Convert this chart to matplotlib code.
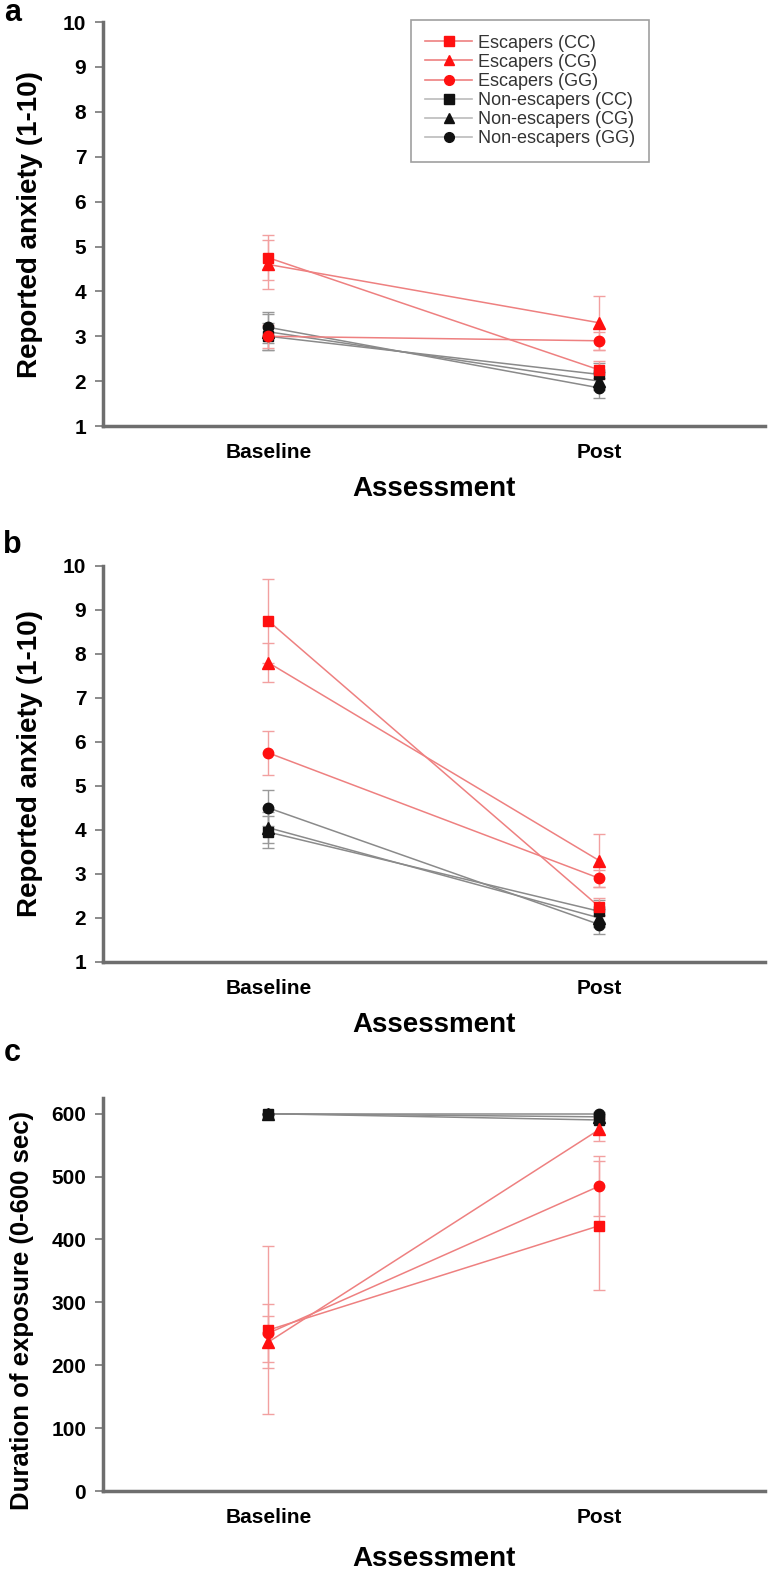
import matplotlib
matplotlib.use("Agg")
import matplotlib.pyplot as plt
from matplotlib.lines import Line2D

plt.rcParams['font.family'] = ['Liberation Sans', 'DejaVu Sans']

# x positions: Baseline, Post
xpos = [1, 2]
xlabels = ["Baseline", "Post"]

groups = ["Escapers (CC)", "Escapers (CG)", "Escapers (GG)",
          "Non-escapers (CC)", "Non-escapers (CG)", "Non-escapers (GG)"]
markers = ["s", "^", "o", "s", "^", "o"]

# panel a: reported anxiety (1-10)
a_mean = [[4.75, 2.25], [4.6, 3.3], [3.0, 2.9],
          [3.0, 2.15], [3.1, 2.0], [3.2, 1.85]]
a_err = [[0.5, 0.2], [0.55, 0.6], [0.25, 0.2],
         [0.3, 0.25], [0.4, 0.2], [0.35, 0.22]]

# panel b: reported anxiety (1-10)
b_mean = [[8.75, 2.25], [7.8, 3.3], [5.75, 2.9],
          [3.95, 2.15], [4.05, 2.0], [4.5, 1.85]]
b_err = [[0.95, 0.2], [0.45, 0.6], [0.5, 0.2],
         [0.37, 0.25], [0.35, 0.2], [0.4, 0.22]]

# panel c: duration of exposure (0-600 sec)
c_mean = [[256, 422], [237, 575], [251, 485],
          [600, 590], [600, 595], [600, 600]]
c_err = [[134, 102], [41, 18], [46, 48],
         [0, 5], [0, 4], [0, 3]]

panels = [
    ("a", a_mean, a_err, (1, 10), range(1, 11), "Reported anxiety (1-10)"),
    ("b", b_mean, b_err, (1, 10), range(1, 11), "Reported anxiety (1-10)"),
    ("c", c_mean, c_err, (0, 625), range(0, 601, 100), "Duration of exposure (0-600 sec)"),
]

# axes boxes in figure fractions [left, bottom, width, height]
boxes = [
    [0.134, 0.730, 0.862, 0.256],
    [0.134, 0.3904, 0.862, 0.251],
    [0.134, 0.0551, 0.862, 0.2491],
]
letter_y = [0.992, 0.6546, 0.333]
ylab_x = [-0.091, -0.091, -0.104]
ylab_y = [0.5, 0.5, 0.46]
ylab_size = [20, 20, 18.5]
xlab_y = [-0.124, -0.126, -0.14]

red_mk = "#ff1010"
red_ln = "#ee8080"
red_eb = "#f2a0a0"
blk_mk = "#111111"
blk_ln = "#8a8a8a"
blk_eb = "#999999"

fig = plt.figure(figsize=(7.68, 15.78), dpi=100)

for k, (letter, means, errs, ylim, yt, ylab) in enumerate(panels):
    ax = fig.add_axes(boxes[k])
    # non-escapers first so the red ones sit on top where they overlap
    for i in [3, 4, 5, 0, 1, 2]:
        esc = i < 3
        ax.errorbar(xpos, means[i], yerr=errs[i], fmt="none",
                    ecolor=red_eb if esc else blk_eb, elinewidth=1,
                    capsize=4, capthick=1, zorder=2)
        ax.plot(xpos, means[i], color=red_ln if esc else blk_ln, lw=1.1,
                zorder=3)
        ax.plot(xpos, means[i], ls="none", marker=markers[i],
                color=red_mk if esc else blk_mk, ms=8.5 if markers[i] == "^" else 7.5,
                zorder=4)

    ax.set_xlim(0.5, 2.5)
    ax.set_ylim(*ylim)
    ax.set_xticks(xpos)
    ax.set_xticklabels(xlabels)
    ax.set_yticks(list(yt))
    for lab in ax.get_xticklabels() + ax.get_yticklabels():
        lab.set_fontweight("bold")
        lab.set_fontsize(15)
    ax.tick_params(axis="x", length=0, pad=12)
    ax.tick_params(axis="y", length=6, width=1.2, color="#777777", pad=6)
    for s in ["top", "right"]:
        ax.spines[s].set_visible(False)
    for s in ["left", "bottom"]:
        ax.spines[s].set_color("#6e6e6e")
        ax.spines[s].set_linewidth(2.5)

    ax.set_ylabel(ylab, fontsize=ylab_size[k], fontweight="bold")
    ax.yaxis.set_label_coords(ylab_x[k], ylab_y[k])
    ax.set_xlabel("Assessment", fontsize=20, fontweight="bold")
    ax.xaxis.set_label_coords(0.50, xlab_y[k])

    fig.text(0.016, letter_y[k], letter, fontsize=22, fontweight="bold",
             ha="center", va="center")

    if letter == "a":
        handles = []
        for i in range(6):
            esc = i < 3
            handles.append(Line2D([], [], color=red_ln if esc else "#bbbbbb",
                                  lw=1.2, marker=markers[i],
                                  mfc=red_mk if esc else blk_mk,
                                  mec=red_mk if esc else blk_mk, ms=7))
        leg = ax.legend(handles, groups, loc="upper left",
                        bbox_to_anchor=(0.465, 1.005), fontsize=13,
                        frameon=True, fancybox=False, handlelength=2.6,
                        labelspacing=0.12, borderpad=0.8, handletextpad=0.3,
                        borderaxespad=0)
        leg.get_frame().set_edgecolor("#888888")
        leg.get_frame().set_linewidth(1.2)
        for t in leg.get_texts():
            t.set_color("#333333")

fig.savefig("out.png", dpi=100)
